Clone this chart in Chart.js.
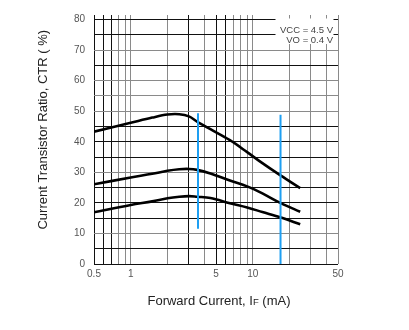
<!DOCTYPE html>
<html>
<head>
<meta charset="utf-8">
<script src="https://cdn.jsdelivr.net/npm/chart.js@4/dist/chart.umd.min.js"></script>
<style>
    html, body { margin: 0; padding: 0; background: #fff; }
    #contenedor { width: 409px; height: 330px; }
</style>
</head>
<body>
<div id="contenedor"><canvas id="chartCTR" width="409" height="330"></canvas></div>
<script>
// Corriente directa (mA) de los puntos de cada curva
const corriente = [0.5, 1, 1.5, 2, 2.5, 3, 3.5, 4.5, 6.5, 9, 12, 17, 24.5];
// CTR (%) de las tres curvas
const ctrAlto  = [43.3, 46.2, 47.9, 48.9, 49.0, 48.3, 46.6, 44.1, 40.5, 36.6, 33.0, 28.9, 24.8];
const ctrMedio = [26.1, 28.3, 29.5, 30.5, 31.0, 31.1, 30.8, 29.6, 27.3, 25.4, 23.1, 19.9, 17.1];
const ctrBajo  = [16.9, 19.3, 20.5, 21.5, 22.0, 22.2, 22.0, 21.6, 19.9, 18.5, 17.0, 15.2, 13.0];

// Marcas verticales azules
const marcasX = [3.56, 16.9];
const marcasArriba = [49.3, 48.8];
const marcasAbajo = [11.5, 0];

// Ejes
const gridX = [0.5, 0.6, 0.7, 0.8, 0.9, 1, 2, 3, 4, 5, 6, 7, 8, 9, 10, 20, 30, 40, 50];
const etiquetasX = [0.5, 1, 5, 10, 50];
const etiquetasY = [0, 10, 20, 30, 40, 50, 60, 70, 80];

const condiciones = ['VCC = 4.5 V', 'VO = 0.4 V'];
const tituloY = 'Current Transistor Ratio, CTR ( %)';
const tituloX = ['Forward Current, I', 'F', ' (mA)'];

// Líneas de la rejilla que salen más oscuras
const oscurasX = [0.5, 0.6, 0.7, 3, 5, 6];
const oscurasY = [0, 5, 15, 20, 25, 35, 40, 45, 65, 75, 80];

const FUENTE = '"Liberation Sans", Arial, sans-serif';
const NEGRO = '#111';
const GRIS = '#8a8a8a';

function colorX(v) {
    return oscurasX.some(o => Math.abs(o - v) < 1e-6) ? NEGRO : GRIS;
}

function colorY(v) {
    return oscurasY.includes(v) ? NEGRO : GRIS;
}

function curva(valores) {
    return {
        data: corriente.map((x, i) => ({ x: x, y: valores[i] })),
        borderColor: '#000',
        borderWidth: 2.6,
        pointRadius: 0,
        tension: 0.35,
        order: 2
    };
}

function marca(i) {
    return {
        data: [{ x: marcasX[i], y: marcasArriba[i] }, { x: marcasX[i], y: marcasAbajo[i] }],
        borderColor: '#1E9FF2',
        borderWidth: 2,
        pointRadius: 0,
        order: 1
    };
}

// Recuadro de condiciones y títulos de los ejes
const textosExtra = {
    id: 'textosExtra',
    beforeDatasetsDraw(chart) {
        const { ctx, chartArea } = chart;
        const derecha = chartArea.right - 4.5;
        ctx.save();
        ctx.fillStyle = '#fff';
        ctx.fillRect(derecha - 58, chartArea.top - 1, 58, 25.5);
        ctx.fillStyle = '#444';
        ctx.font = '9.5px ' + FUENTE;
        ctx.textAlign = 'right';
        ctx.textBaseline = 'middle';
        condiciones.forEach((t, i) => {
            ctx.fillText(t, derecha - 0.5, chartArea.top + 11 + i * 10);
        });
        ctx.restore();
    },
    afterDraw(chart) {
        const { ctx, chartArea } = chart;
        ctx.save();
        ctx.fillStyle = '#222';

        // Título del eje Y
        ctx.font = '13px ' + FUENTE;
        ctx.textAlign = 'center';
        ctx.textBaseline = 'middle';
        ctx.translate(43.5, (chartArea.top + chartArea.bottom) / 2 - 12);
        ctx.rotate(-Math.PI / 2);
        ctx.fillText(tituloY, 0, 0);
        ctx.setTransform(1, 0, 0, 1, 0, 0);

        // Título del eje X con la F como subíndice
        const fuentes = ['13px ' + FUENTE, '9.5px ' + FUENTE, '13px ' + FUENTE];
        let ancho = 0;
        const anchos = tituloX.map((t, i) => {
            ctx.font = fuentes[i];
            const w = ctx.measureText(t).width;
            ancho += w;
            return w;
        });
        let x = (chartArea.left + chartArea.right) / 2 + 3 - ancho / 2;
        ctx.textAlign = 'left';
        ctx.textBaseline = 'alphabetic';
        tituloX.forEach((t, i) => {
            ctx.font = fuentes[i];
            ctx.fillText(t, x, 304.5);
            x += anchos[i];
        });
        ctx.restore();
    }
};

const ejeX = {
    type: 'logarithmic',
    min: 0.5,
    max: 50,
    position: 'bottom',
    afterBuildTicks: s => { s.ticks = gridX.map(v => ({ value: v })); },
    afterFit: s => { s.height = 66; },
    border: { display: false },
    grid: {
        color: c => colorX(c.tick.value),
        lineWidth: 1,
        drawTicks: false
    },
    ticks: {
        autoSkip: false,
        maxRotation: 0,
        padding: 4,
        color: '#555',
        font: { family: FUENTE, size: 10 },
        callback: v => etiquetasX.some(e => Math.abs(e - v) < 1e-6) ? String(v) : ''
    }
};

const config = {
    type: 'line',
    data: {
        datasets: [curva(ctrAlto), curva(ctrMedio), curva(ctrBajo), marca(0), marca(1)]
    },
    options: {
        responsive: false,
        animation: false,
        devicePixelRatio: 1,
        layout: { padding: { left: 0, right: 71, top: 15, bottom: 0 } },
        plugins: {
            legend: { display: false },
            tooltip: { enabled: false }
        },
        scales: {
            x: ejeX,
            xArriba: {
                type: 'logarithmic',
                min: 0.5,
                max: 50,
                position: 'top',
                afterBuildTicks: s => { s.ticks = gridX.map(v => ({ value: v })); },
                afterFit: s => { s.height = 4.5; },
                border: { display: false },
                grid: {
                    drawOnChartArea: false,
                    drawTicks: true,
                    tickLength: 4.5,
                    tickColor: c => colorX(c.tick.value)
                },
                ticks: { display: false }
            },
            y: {
                min: 0,
                max: 80,
                afterFit: s => { s.width = 94; },
                border: { display: false },
                grid: {
                    color: c => colorY(c.tick.value),
                    lineWidth: 1,
                    drawTicks: false
                },
                ticks: {
                    stepSize: 5,
                    padding: 9,
                    color: '#555',
                    font: { family: FUENTE, size: 10 },
                    callback: v => etiquetasY.includes(v) ? String(v) : ''
                }
            }
        }
    },
    plugins: [textosExtra]
};

new Chart(document.getElementById('chartCTR').getContext('2d'), config);
</script>
</body>
</html>
